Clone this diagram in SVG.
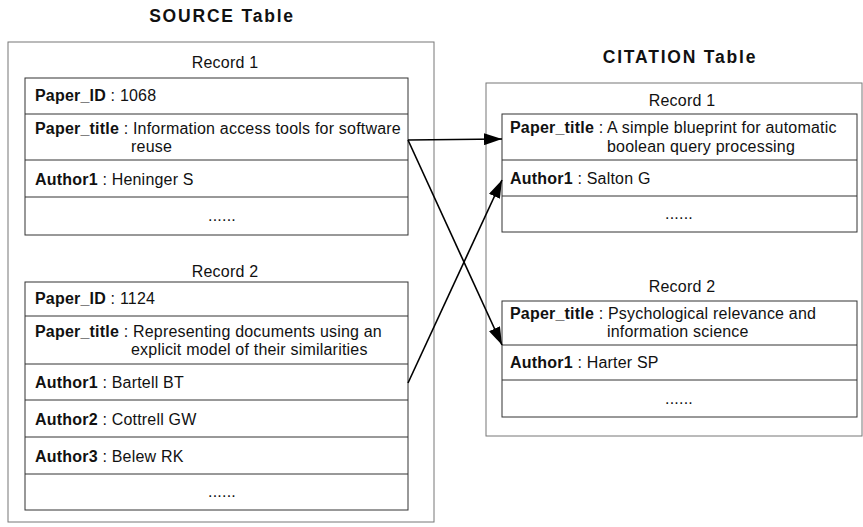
<svg xmlns="http://www.w3.org/2000/svg" width="863" height="527" viewBox="0 0 863 527">
<style>
text{font-family:"Liberation Sans",Arial,sans-serif;font-size:16px;letter-spacing:0.2px;fill:#111}
.b{font-weight:bold}
.t{font-weight:bold;font-size:17.5px;letter-spacing:1.8px}
.c{text-anchor:middle}
.outer{fill:none;stroke:#777;stroke-width:1}
.box{fill:#fff;stroke:#333;stroke-width:1}
.sep{stroke:#333;stroke-width:1}
.con{stroke:#000;stroke-width:1.6;fill:none}
</style>
<defs>
<marker id="ah" viewBox="0 0 18 12" refX="18" refY="6" markerWidth="18" markerHeight="12" orient="auto" markerUnits="userSpaceOnUse">
<path d="M0,0 L18,6 L0,12 z" fill="#000"/>
</marker>
</defs>
<rect width="863" height="527" fill="#fff"/>

<g id="source">
<text class="t c" x="222" y="22">SOURCE Table</text>
<rect class="outer" x="8" y="42" width="426" height="480"/>
</g>

<g id="src-rec1">
<text class="c" x="225" y="68">Record 1</text>
<rect class="box" x="25" y="78" width="383" height="157"/>
<line class="sep" x1="25" y1="114" x2="408" y2="114"/>
<line class="sep" x1="25" y1="160" x2="408" y2="160"/>
<line class="sep" x1="25" y1="197" x2="408" y2="197"/>
<text x="35" y="101"><tspan class="b">Paper_ID</tspan> : 1068</text>
<text x="35" y="134"><tspan class="b">Paper_title</tspan> : Information access tools for software</text>
<text x="131" y="152">reuse</text>
<text x="35" y="185"><tspan class="b">Author1</tspan> : Heninger S</text>
<text class="c" x="222" y="221">......</text>
</g>

<g id="src-rec2">
<text class="c" x="225" y="277">Record 2</text>
<rect class="box" x="25" y="282" width="383" height="228"/>
<line class="sep" x1="25" y1="316" x2="408" y2="316"/>
<line class="sep" x1="25" y1="364" x2="408" y2="364"/>
<line class="sep" x1="25" y1="400" x2="408" y2="400"/>
<line class="sep" x1="25" y1="437" x2="408" y2="437"/>
<line class="sep" x1="25" y1="474" x2="408" y2="474"/>
<text x="35" y="304"><tspan class="b">Paper_ID</tspan> : 1124</text>
<text x="35" y="337"><tspan class="b">Paper_title</tspan> : Representing documents using an</text>
<text x="131" y="355">explicit model of their similarities</text>
<text x="35" y="388"><tspan class="b">Author1</tspan> : Bartell BT</text>
<text x="35" y="425"><tspan class="b">Author2</tspan> : Cottrell GW</text>
<text x="35" y="462"><tspan class="b">Author3</tspan> : Belew RK</text>
<text class="c" x="222" y="497">......</text>
</g>

<g id="citation">
<text class="t c" x="680" y="63">CITATION Table</text>
<rect class="outer" x="486" y="83" width="376" height="353"/>
</g>

<g id="cit-rec1">
<text class="c" x="682" y="106">Record 1</text>
<rect class="box" x="502" y="114" width="355" height="118"/>
<line class="sep" x1="502" y1="160" x2="857" y2="160"/>
<line class="sep" x1="502" y1="196" x2="857" y2="196"/>
<text x="510" y="133"><tspan class="b">Paper_title</tspan> : A simple blueprint for automatic</text>
<text x="607" y="152">boolean query processing</text>
<text x="510" y="184"><tspan class="b">Author1</tspan> : Salton G</text>
<text class="c" x="679" y="219">......</text>
</g>

<g id="cit-rec2">
<text class="c" x="682" y="292">Record 2</text>
<rect class="box" x="502" y="301" width="355" height="116"/>
<line class="sep" x1="502" y1="345" x2="857" y2="345"/>
<line class="sep" x1="502" y1="380" x2="857" y2="380"/>
<text x="510" y="319"><tspan class="b">Paper_title</tspan> : Psychological relevance and</text>
<text x="607" y="337">information science</text>
<text x="510" y="368"><tspan class="b">Author1</tspan> : Harter SP</text>
<text class="c" x="679" y="404">......</text>
</g>

<g id="connectors">
<line class="con" x1="408" y1="140" x2="502" y2="139" marker-end="url(#ah)"/>
<line class="con" x1="408" y1="140" x2="502" y2="345" marker-end="url(#ah)"/>
<line class="con" x1="408" y1="383" x2="502" y2="180" marker-end="url(#ah)"/>
</g>
</svg>
